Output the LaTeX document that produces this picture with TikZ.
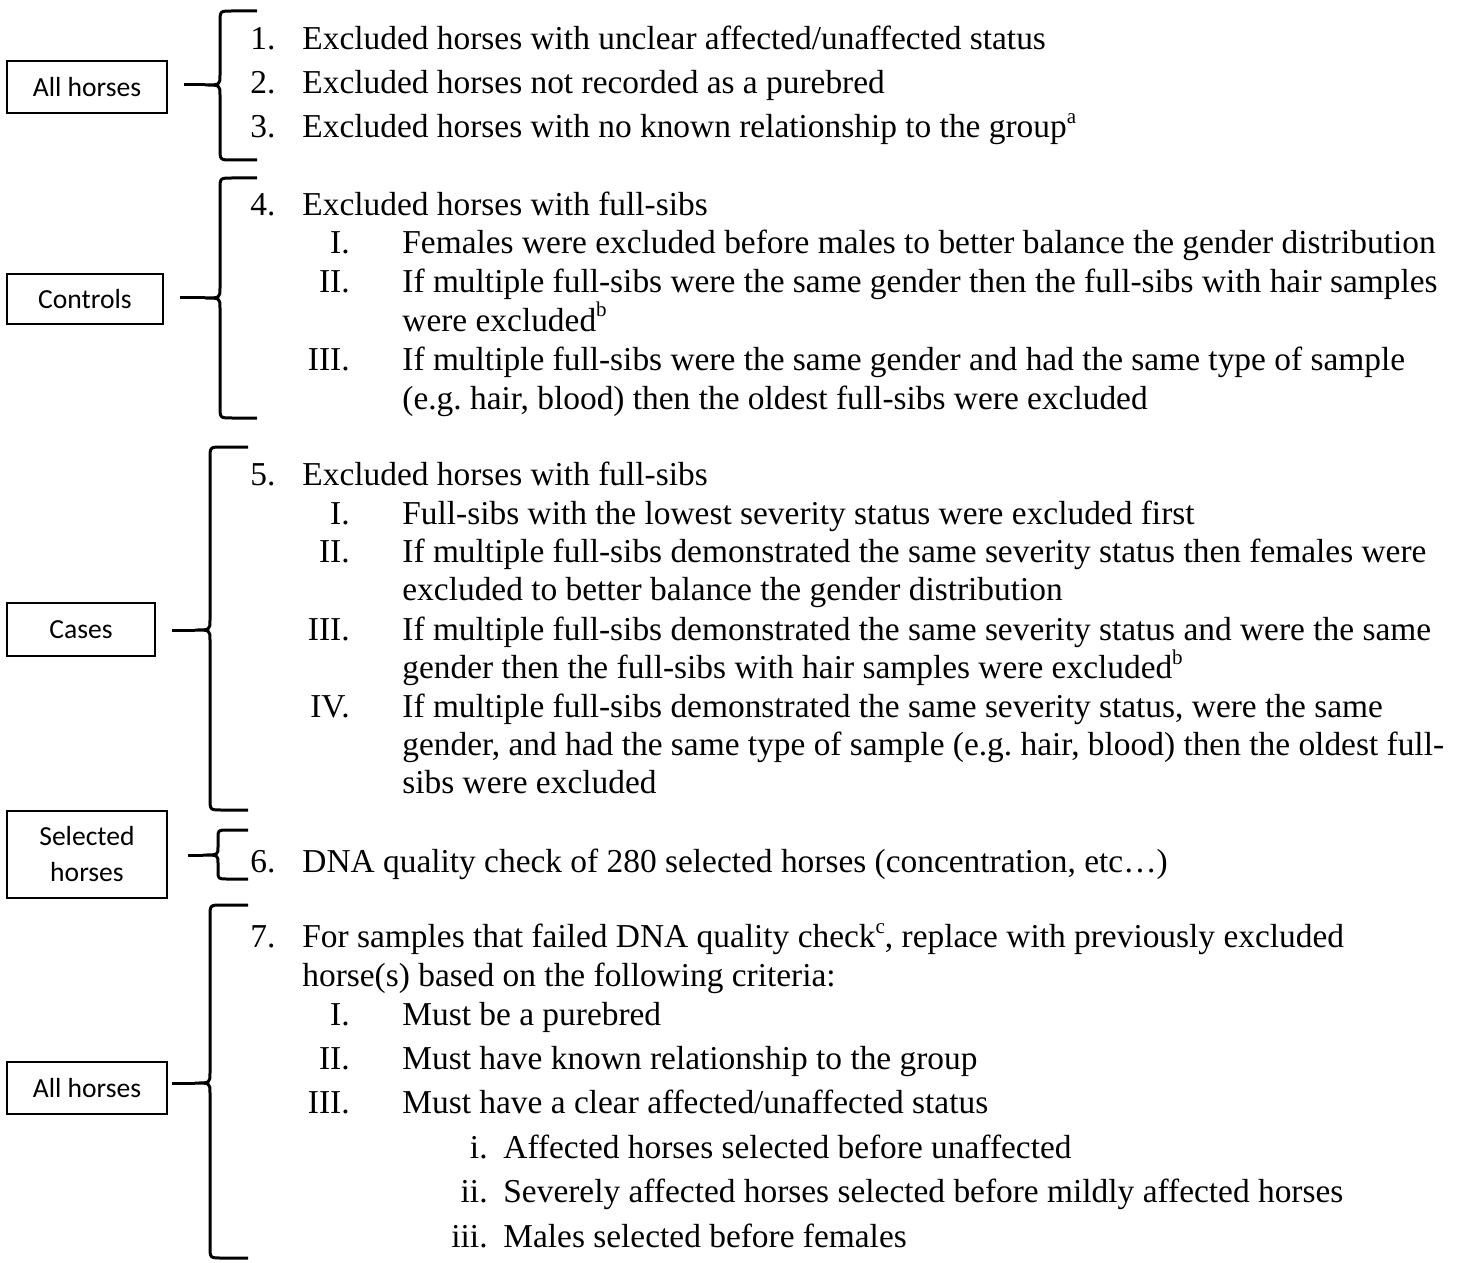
\documentclass[tikz,border=0pt]{standalone}
\usepackage{fontspec}
\setmainfont{Liberation Serif}
\newfontfamily\boxfont{Carlito}
\newcommand{\supmark}[1]{\smash{\raisebox{7pt}{\fontsize{10.5pt}{11pt}\selectfont #1}}}
\begin{document}
\frenchspacing
\begin{tikzpicture}[x=0.5pt,y=-0.5pt,
  lbox/.style={draw, line width=1pt, inner sep=0pt, font=\boxfont\fontsize{13.8pt}{17pt}\selectfont, align=center},
  txt/.style={inner sep=0pt, anchor=base west, font=\fontsize{16.7pt}{19pt}\selectfont},
  num/.style={inner sep=0pt, anchor=base west, font=\fontsize{16.7pt}{19pt}\selectfont},
  rom/.style={inner sep=0pt, anchor=base east, font=\fontsize{16.7pt}{19pt}\selectfont},
  brace/.style={line width=1.5pt, line join=round}]
\useasboundingbox (0,0) rectangle (1465,1262);

% boxes
\node[lbox, minimum width=80pt, minimum height=26pt] (b1) at (87,87.5) {All horses};
\node[lbox, minimum width=78pt, minimum height=25pt] (b2) at (85,299) {Controls};
\node[lbox, minimum width=74pt, minimum height=26.5pt] (b3) at (81,629.5) {Cases};
\node[lbox, minimum width=80pt, minimum height=43.5pt] (b4) at (87,854.5) {Selected\\[1pt]horses};
\node[lbox, minimum width=80pt, minimum height=26pt] (b5) at (87,1088) {All horses};

% brace tips
\coordinate (p1) at (205,85);
\coordinate (p2) at (205,298);
\coordinate (p3) at (195,630);
\coordinate (p4) at (203,855);
\coordinate (p5) at (195,1083);

\draw[brace] ([xshift=8pt]b1.east |- p1) -- (p1);
\draw[brace] ([xshift=8pt]b2.east |- p2) -- (p2);
\draw[brace] ([xshift=8pt]b3.east |- p3) -- (p3);
\draw[brace] ([xshift=10pt]b4.east |- p4) -- (p4);
\draw[brace] ([xshift=2pt]b5.east |- p5) -- (p5);

% braces
\draw[brace] (257,11) -- (232,11) .. controls (220,11) .. (220,23) -- (220,75) .. controls (220,85) .. (p1)
  .. controls (220,85) .. (220,95) -- (220,148) .. controls (220,160) .. (232,160) -- (257,160);
\draw[brace] (257,178) -- (232,178) .. controls (220,178) .. (220,190) -- (220,288) .. controls (220,298) .. (p2)
  .. controls (220,298) .. (220,308) -- (220,406) .. controls (220,418) .. (232,418) -- (257,418);
\draw[brace] (248,447) -- (222,447) .. controls (210,447) .. (210,459) -- (210,620) .. controls (210,630) .. (p3)
  .. controls (210,630) .. (210,640) -- (210,798) .. controls (210,810) .. (222,810) -- (248,810);
\draw[brace] (248,830) -- (228,830) .. controls (218,830) .. (218,838) -- (218,847) .. controls (218,855) .. (p4)
  .. controls (218,855) .. (218,863) -- (218,871) .. controls (218,879) .. (228,879) -- (248,879);
\draw[brace] (248,905) -- (222,905) .. controls (210,905) .. (210,917) -- (210,1073) .. controls (210,1083) .. (p5)
  .. controls (210,1083) .. (210,1093) -- (210,1246) .. controls (210,1258) .. (222,1258) -- (248,1258);

% group 1
\node[num] (n1) at (250,50) {1.};
\node[txt] (t1) at (302,50) {Excluded horses with unclear affected/unaffected status};
\node[num] (n2) at (250,94) {2.};
\node[txt] (t2) at (302,94) {Excluded horses not recorded as a purebred};
\node[num] (n3) at (250,138) {3.};
\node[txt] (t3) at (302,138) {Excluded horses with no known relationship to the group\supmark{a}};

% group 2
\node[num] (n4) at (250,216) {4.};
\node[txt] (t4) at (302,216) {Excluded horses with full-sibs};
\node[rom] (r4a) at (350,254) {I.};
\node[txt] (t4a) at (402,254) {Females were excluded before males to better balance the gender distribution};
\node[rom] (r4b) at (350,293) {II.};
\node[txt] (t4b) at (402,293) {If multiple full-sibs were the same gender then the full-sibs with hair samples};
\node[txt] (t4b2) at (402,331) {were excluded\supmark{b}};
\node[rom] (r4c) at (350,370) {III.};
\node[txt] (t4c) at (402,370) {If multiple full-sibs were the same gender and had the same type of sample};
\node[txt] (t4c2) at (402,409) {(e.g. hair, blood) then the oldest full-sibs were excluded};

% group 3
\node[num] (n5) at (250,485) {5.};
\node[txt] (t5) at (302,485) {Excluded horses with full-sibs};
\node[rom] (r5a) at (350,524) {I.};
\node[txt] (t5a) at (402,524) {Full-sibs with the lowest severity status were excluded first};
\node[rom] (r5b) at (350,562) {II.};
\node[txt] (t5b) at (402,562) {If multiple full-sibs demonstrated the same severity status then females were};
\node[txt] (t5b2) at (402,600) {excluded to better balance the gender distribution};
\node[rom] (r5c) at (350,640) {III.};
\node[txt] (t5c) at (402,640) {If multiple full-sibs demonstrated the same severity status and were the same};
\node[txt] (t5c2) at (402,678) {gender then the full-sibs with hair samples were excluded\supmark{b}};
\node[rom] (r5d) at (350,717) {IV.};
\node[txt] (t5d) at (402,717) {If multiple full-sibs demonstrated the same severity status, were the same};
\node[txt] (t5d2) at (402,755) {gender, and had the same type of sample (e.g. hair, blood) then the oldest full-};
\node[txt] (t5d3) at (402,793) {sibs were excluded};

% group 4
\node[num] (n6) at (250,872) {6.};
\node[txt] (t6) at (302,872) {DNA quality check of 280 selected horses (concentration, etc\ldots)};

% group 5
\node[num] (n7) at (250,947) {7.};
\node[txt] (t7) at (302,947) {For samples that failed DNA quality check\supmark{c}, replace with previously excluded};
\node[txt] (t72) at (302,986) {horse(s) based on the following criteria:};
\node[rom] (r7a) at (350,1025) {I.};
\node[txt] (t7a) at (402,1025) {Must be a purebred};
\node[rom] (r7b) at (350,1069) {II.};
\node[txt] (t7b) at (402,1069) {Must have known relationship to the group};
\node[rom] (r7c) at (350,1113) {III.};
\node[txt] (t7c) at (402,1113) {Must have a clear affected/unaffected status};
\node[rom] (s1) at (488,1158) {i.};
\node[txt] (u1) at (503,1158) {Affected horses selected before unaffected};
\node[rom] (s2) at (488,1202) {ii.};
\node[txt] (u2) at (503,1202) {Severely affected horses selected before mildly affected horses};
\node[rom] (s3) at (488,1247) {iii.};
\node[txt] (u3) at (503,1247) {Males selected before females};
\end{tikzpicture}
\end{document}
